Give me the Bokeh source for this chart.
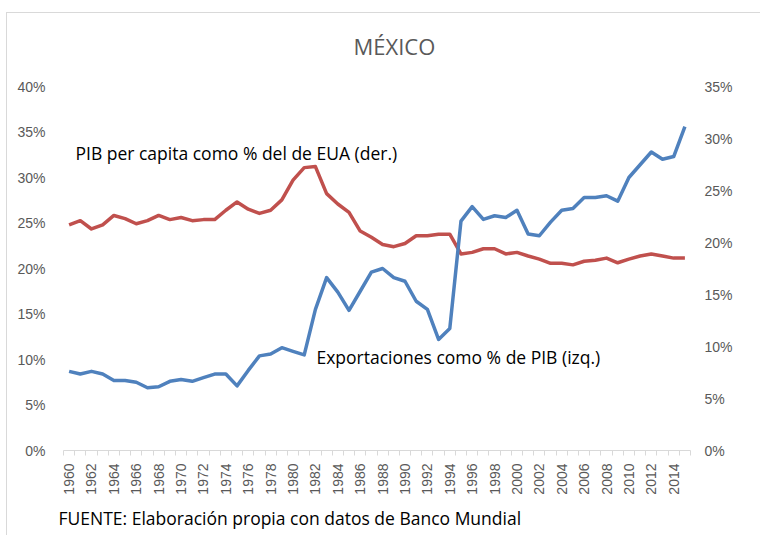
from bokeh.plotting import figure
from bokeh.models import Range1d, LinearAxis, FixedTicker, NumeralTickFormatter, Label, ColumnDataSource, Title
from bokeh.embed import file_html
from bokeh.resources import INLINE
import math

years = list(range(1960, 2016))
exportaciones = [8.7, 8.4, 8.7, 8.4, 7.7, 7.7, 7.5, 6.9, 7.0, 7.6,
                 7.8, 7.6, 8.0, 8.4, 8.4, 7.1, 8.8, 10.4, 10.6, 11.3,
                 10.9, 10.5, 15.5, 19.0, 17.4, 15.4, 17.5, 19.6, 20.0, 19.0,
                 18.6, 16.4, 15.5, 12.2, 13.4, 25.2, 26.8, 25.4, 25.8, 25.6,
                 26.4, 23.8, 23.6, 25.1, 26.4, 26.6, 27.8, 27.8, 28.0, 27.4,
                 30.0, 31.4, 32.8, 32.0, 32.3, 35.6]
pib_pc_eua = [21.7, 22.1, 21.3, 21.7, 22.6, 22.3, 21.8, 22.1, 22.6, 22.2,
              22.4, 22.1, 22.2, 22.2, 23.1, 23.9, 23.2, 22.8, 23.1, 24.1,
              26.0, 27.2, 27.3, 24.7, 23.7, 22.9, 21.1, 20.5, 19.8, 19.6,
              19.9, 20.65, 20.65, 20.8, 20.8, 18.9, 19.05, 19.4, 19.4, 18.9,
              19.05, 18.7, 18.4, 18.0, 18.0, 17.85, 18.2, 18.3, 18.5, 18.05,
              18.4, 18.7, 18.9, 18.7, 18.5, 18.5]
left_ticks = [0, 0.05, 0.10, 0.15, 0.20, 0.25, 0.30, 0.35, 0.40]
right_ticks = [0, 0.05, 0.10, 0.15, 0.20, 0.25, 0.30, 0.35]
year_ticks = list(range(1960, 2016, 2))

title_text = "MÉXICO"
label_pib = "PIB per capita como % del de EUA (der.)"
label_exp = "Exportaciones como % de PIB (izq.)"
fuente = "FUENTE:  Elaboración propia con datos de Banco Mundial"

src = ColumnDataSource(dict(
    year=years,
    exp=[v / 100 for v in exportaciones],
    pib=[v / 100 for v in pib_pc_eua],
))

GREY = "#595959"
FONT = "Open Sans"
EDGE = "linear-gradient(#d9d9d9, #d9d9d9)"

p = figure(width=760, height=535, output_backend="svg", toolbar_location=None,
           x_range=Range1d(1959.5, 2015.5), y_range=Range1d(0, 0.40),
           min_border_left=63, min_border_right=70, min_border_top=86, min_border_bottom=84,
           background_fill_color="white", border_fill_color=None,
           styles={"background": f"{EDGE} 6px 12px / 1px 100% no-repeat, "
                                 f"{EDGE} 6px 12px / 100% 1px no-repeat, white"})
p.outline_line_color = None
p.grid.visible = False
p.extra_y_ranges = {"right": Range1d(0, 0.35)}

p.title.text = title_text
p.title.align = "left"
p.title.offset = 290
p.title.text_font = FONT
p.title.text_font_style = "normal"
p.title.text_font_size = "22px"
p.title.text_color = GREY
p.title.standoff = 51

p.yaxis.ticker = FixedTicker(ticks=left_ticks)
p.yaxis.formatter = NumeralTickFormatter(format="0%")
p.yaxis.axis_line_color = None
p.yaxis.major_tick_line_color = None
p.yaxis.minor_tick_line_color = None
p.yaxis.major_label_text_font = "Liberation Sans"
p.yaxis.major_label_text_font_size = "14px"
p.yaxis.major_label_text_color = GREY
p.yaxis.major_label_standoff = 12

ry = LinearAxis(y_range_name="right", ticker=FixedTicker(ticks=right_ticks),
                formatter=NumeralTickFormatter(format="0%"))
ry.axis_line_color = None
ry.major_tick_line_color = None
ry.minor_tick_line_color = None
ry.major_label_text_font = "Liberation Sans"
ry.major_label_text_font_size = "14px"
ry.major_label_text_color = GREY
ry.major_label_standoff = 8
p.add_layout(ry, "right")

p.xaxis.ticker = FixedTicker(ticks=year_ticks, minor_ticks=[y - 0.5 for y in years] + [2015.5])
p.xaxis.axis_line_color = "#d9d9d9"
p.xaxis.axis_line_width = 1
p.xaxis.major_tick_line_color = None
p.xaxis.minor_tick_line_color = "#d9d9d9"
p.xaxis.minor_tick_out = 5
p.xaxis.minor_tick_in = 0
p.xaxis.major_label_orientation = math.pi / 2
p.xaxis.major_label_text_font = "Liberation Sans"
p.xaxis.major_label_text_font_size = "14px"
p.xaxis.major_label_text_color = GREY
p.xaxis.major_label_standoff = 7

foot = Title(text=fuente, align="left", offset=-5, text_font=FONT, text_font_style="normal",
             text_font_size="17.5px", text_color="black", standoff=12)
p.add_layout(foot, "below")

p.line("year", "pib", source=src, color="#c0504d", line_width=3.5, y_range_name="right",
       line_join="round")
p.line("year", "exp", source=src, color="#4f81bd", line_width=3.5, line_join="round")

p.add_layout(Label(x=1960.57, y=0.327, text=label_pib, text_align="left", text_baseline="middle",
                   text_font=FONT, text_font_size="17.5px", text_color="black"))
p.add_layout(Label(x=1982.09, y=0.103, text=label_exp, text_align="left", text_baseline="middle",
                   text_font=FONT, text_font_size="17.5px", text_color="black"))

open("out.html", "w").write(file_html(p, INLINE))
